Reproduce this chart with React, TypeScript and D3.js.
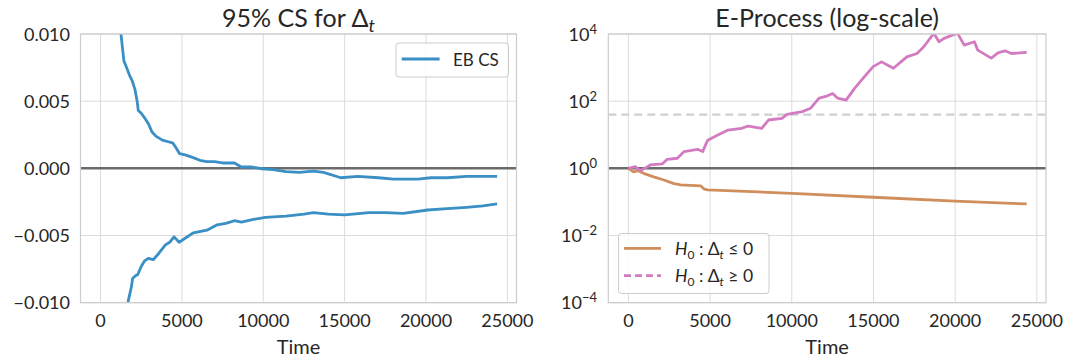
import React from "react";
import * as d3 from "d3";

// ---- data ----
const xTicks = [0, 5000, 10000, 15000, 20000, 25000];
const csYTicks = [0.01, 0.005, 0, -0.005, -0.01];
const csYTickLabels = ["0.010", "0.005", "0.000", "\u22120.005", "\u22120.010"];
const epYTicks = [1e4, 1e2, 1, 1e-2, 1e-4];
const epYTickExp = ["4", "2", "0", "\u22122", "\u22124"];

const csUpperT = [1000, 1266, 1435, 1600, 1793, 1950, 2110, 2250, 2321, 2500, 2743, 2950, 3165, 3400, 3798, 4100, 4430, 4600, 4852, 5200, 5696, 6100, 6540, 7000, 7500, 8228, 8650, 9300, 9916, 10600, 11392, 12200, 13080, 13700, 14768, 15800, 17089, 18000, 18777, 19500, 20300, 21308, 22500, 23500, 24367];
const csUpperV = [0.0135, 0.0099, 0.0080, 0.0075, 0.0069, 0.0065, 0.0059, 0.0050, 0.0043, 0.0041, 0.0037, 0.0033, 0.0027, 0.0024, 0.0021, 0.0020, 0.0019, 0.0016, 0.0011, 0.0010, 0.0008, 0.0006, 0.0005, 0.0005, 0.0004, 0.0004, 0.0001, 0.0001, -0.00003, -0.0001, -0.00025, -0.0003, -0.0002, -0.0003, -0.0007, -0.0006, -0.0007, -0.0008, -0.0008, -0.0008, -0.0007, -0.0007, -0.0006, -0.0006, -0.0006];

const csLowerT = [1500, 1700, 1900, 1970, 2150, 2290, 2500, 2700, 2930, 3240, 3600, 3990, 4250, 4520, 4830, 5200, 5696, 6540, 7170, 7700, 8228, 8650, 9400, 10130, 11392, 12500, 13080, 14000, 15000, 16500, 17500, 18600, 20100, 21300, 22500, 23500, 24367];
const csLowerV = [-0.0115, -0.0099, -0.0088, -0.0082, -0.0080, -0.0079, -0.0073, -0.0069, -0.0067, -0.0068, -0.0063, -0.0057, -0.0055, -0.0051, -0.0055, -0.0052, -0.0048, -0.0046, -0.0042, -0.0041, -0.0039, -0.0040, -0.0038, -0.00365, -0.00355, -0.0034, -0.0033, -0.0034, -0.00347, -0.0033, -0.0033, -0.00335, -0.0031, -0.0030, -0.0029, -0.0028, -0.00265];

const epGeT = [0, 413, 723, 1000, 1343, 2066, 2376, 2996, 3409, 4236, 4545, 4855, 5475, 6095, 6921, 7334, 8161, 8574, 9401, 9711, 10640, 11157, 11673, 12086, 12500, 12810, 13326, 13843, 14359, 14979, 15495, 16218, 17045, 17664, 18077, 18697, 19007, 19317, 20143, 20557, 21177, 21383, 22209, 22623, 23036, 23449, 24379];
const epGeV = [1, 1.12, 0.85, 1.0, 1.26, 1.35, 1.86, 2.0, 3.16, 3.7, 3.16, 6.9, 9.8, 13.8, 15.5, 18.2, 15.5, 27.5, 30.9, 40.7, 49, 61.7, 123, 138, 170, 123, 107, 240, 479, 1070, 1480, 955, 2090, 2630, 4170, 10500, 5890, 7410, 10500, 4680, 5890, 3310, 1910, 2750, 3160, 2630, 2820];

const epLeT = [0, 310, 600, 930, 1550, 2170, 2790, 3200, 4440, 4650, 4855, 10020, 14980, 19980, 24380];
const epLeV = [1, 0.79, 0.85, 0.71, 0.56, 0.45, 0.35, 0.32, 0.30, 0.24, 0.23, 0.18, 0.138, 0.105, 0.087];

const threshold = 40;

const FONT = "Lato, 'Open Sans', sans-serif";
const TXT = "#262626";
const BLUE = "#3a8fc5";
const PINK = "#d27bc0";
const ORANGE = "#cf8e5c";

const top = 34, bottom = 302.7;
const L = { x0: 80.5, x1: 516.5 };
const R = { x0: 608.3, x1: 1046 };
const xDomain: [number, number] = [-1230, 25560];

function zip(t: number[], v: number[]) {
  return t.map((x, i) => [x, v[i]] as [number, number]);
}

export default function App() {
  const xL = d3.scaleLinear().domain(xDomain).range([L.x0, L.x1]);
  const xR = d3.scaleLinear().domain(xDomain).range([R.x0, R.x1]);
  const yL = d3.scaleLinear().domain([-0.01, 0.01]).range([bottom, top]);
  const yR = d3.scaleLog().domain([1e-4, 1e4]).range([bottom, top]);

  const lineL = d3.line<[number, number]>().x(d => xL(d[0])).y(d => yL(d[1]));
  const lineR = d3.line<[number, number]>().x(d => xR(d[0])).y(d => yR(d[1]));

  const grid = "#dcdcdc";
  const spine = "#cccccc";

  return (
    <svg width={1068} height={360} style={{ position: "absolute", left: 0, top: 0 }} fontFamily={FONT}>
      <defs>
        <clipPath id="clipL"><rect x={L.x0} y={top} width={L.x1 - L.x0} height={bottom - top} /></clipPath>
        <clipPath id="clipR"><rect x={R.x0} y={top} width={R.x1 - R.x0} height={bottom - top} /></clipPath>
      </defs>
      <rect width={1068} height={360} fill="#fff" />

      {/* ---------- Left panel ---------- */}
      {xTicks.map(t => (
        <line key={"lgx" + t} x1={xL(t)} x2={xL(t)} y1={top} y2={bottom} stroke={grid} strokeWidth={1} />
      ))}
      {csYTicks.map(v => (
        <line key={"lgy" + v} x1={L.x0} x2={L.x1} y1={yL(v)} y2={yL(v)} stroke={grid} strokeWidth={1} />
      ))}
      <g clipPath="url(#clipL)">
        <line x1={L.x0} x2={L.x1} y1={yL(0)} y2={yL(0)} stroke="#6b6b6b" strokeWidth={2.5} />
        <path d={lineL(zip(csUpperT, csUpperV)) || ""} fill="none" stroke={BLUE} strokeWidth={2.8} strokeLinejoin="round" />
        <path d={lineL(zip(csLowerT, csLowerV)) || ""} fill="none" stroke={BLUE} strokeWidth={2.8} strokeLinejoin="round" />
      </g>
      <rect x={L.x0} y={top} width={L.x1 - L.x0} height={bottom - top} fill="none" stroke={spine} strokeWidth={1.2} />
      {xTicks.map(t => (
        <text key={"lxt" + t} x={xL(t)} y={327} textAnchor="middle" fontSize={18} fill={TXT}>{t}</text>
      ))}
      {csYTicks.map((v, i) => (
        <text key={"lyt" + v} x={70} y={yL(v) + 6.5} textAnchor="end" fontSize={18} fill={TXT}>{csYTickLabels[i]}</text>
      ))}
      <text x={(L.x0 + L.x1) / 2} y={354} textAnchor="middle" fontSize={20} fill={TXT}>Time</text>
      <text x={(L.x0 + L.x1) / 2} y={27} textAnchor="middle" fontSize={25} fill={TXT}>
        95% CS for Δ<tspan fontStyle="italic" fontSize={18} dy={5}>t</tspan>
      </text>
      {/* legend */}
      <rect x={396} y={43} width={112.5} height={34} rx={3} fill="#fff" fillOpacity={0.8} stroke={spine} strokeWidth={1} />
      <line x1={401.7} x2={439.6} y1={59} y2={59} stroke={BLUE} strokeWidth={2.8} />
      <text x={453} y={65.5} fontSize={17} fill={TXT}>EB CS</text>

      {/* ---------- Right panel ---------- */}
      {xTicks.map(t => (
        <line key={"rgx" + t} x1={xR(t)} x2={xR(t)} y1={top} y2={bottom} stroke={grid} strokeWidth={1} />
      ))}
      {epYTicks.map(v => (
        <line key={"rgy" + v} x1={R.x0} x2={R.x1} y1={yR(v)} y2={yR(v)} stroke={grid} strokeWidth={1} />
      ))}
      <g clipPath="url(#clipR)">
        <line x1={R.x0} x2={R.x1} y1={yR(threshold)} y2={yR(threshold)} stroke="#cfcfcf" strokeWidth={2.2} strokeDasharray="8,5" />
        <line x1={R.x0} x2={R.x1} y1={yR(1)} y2={yR(1)} stroke="#6b6b6b" strokeWidth={2.5} />
        <path d={lineR(zip(epLeT, epLeV)) || ""} fill="none" stroke={ORANGE} strokeWidth={2.8} strokeLinejoin="round" />
        <path d={lineR(zip(epGeT, epGeV)) || ""} fill="none" stroke={PINK} strokeWidth={2.8} strokeLinejoin="round" />
      </g>
      <rect x={R.x0} y={top} width={R.x1 - R.x0} height={bottom - top} fill="none" stroke={spine} strokeWidth={1.2} />
      {xTicks.map(t => (
        <text key={"rxt" + t} x={xR(t)} y={327} textAnchor="middle" fontSize={18} fill={TXT}>{t}</text>
      ))}
      {epYTicks.map((v, i) => (
        <text key={"ryt" + v} x={597} y={yR(v) + 6.5} textAnchor="end" fontSize={18} fill={TXT}>
          10<tspan fontSize={13} dy={-7}>{epYTickExp[i]}</tspan>
        </text>
      ))}
      <text x={(R.x0 + R.x1) / 2} y={354} textAnchor="middle" fontSize={20} fill={TXT}>Time</text>
      <text x={(R.x0 + R.x1) / 2} y={27} textAnchor="middle" fontSize={25} fill={TXT}>E-Process (log-scale)</text>
      {/* legend */}
      <rect x={618.5} y={233.5} width={150.5} height={60} rx={3} fill="#fff" fillOpacity={0.8} stroke={spine} strokeWidth={1} />
      <line x1={624} x2={661} y1={248.3} y2={248.3} stroke={ORANGE} strokeWidth={2.8} />
      <line x1={624} x2={661} y1={275.7} y2={275.7} stroke={PINK} strokeWidth={2.8} strokeDasharray="7,4" />
      {[0, 1].map(i => (
        <text key={"leg" + i} x={675} y={i === 0 ? 255 : 282} fontSize={17.5} fill={TXT}>
          <tspan fontStyle="italic">H</tspan>
          <tspan fontSize={12} dy={4}>0</tspan>
          <tspan dy={-4}>{" : Δ"}</tspan>
          <tspan fontStyle="italic" fontSize={12} dy={4}>t</tspan>
          <tspan dy={-4}>{i === 0 ? " ≤ 0" : " ≥ 0"}</tspan>
        </text>
      ))}
    </svg>
  );
}
